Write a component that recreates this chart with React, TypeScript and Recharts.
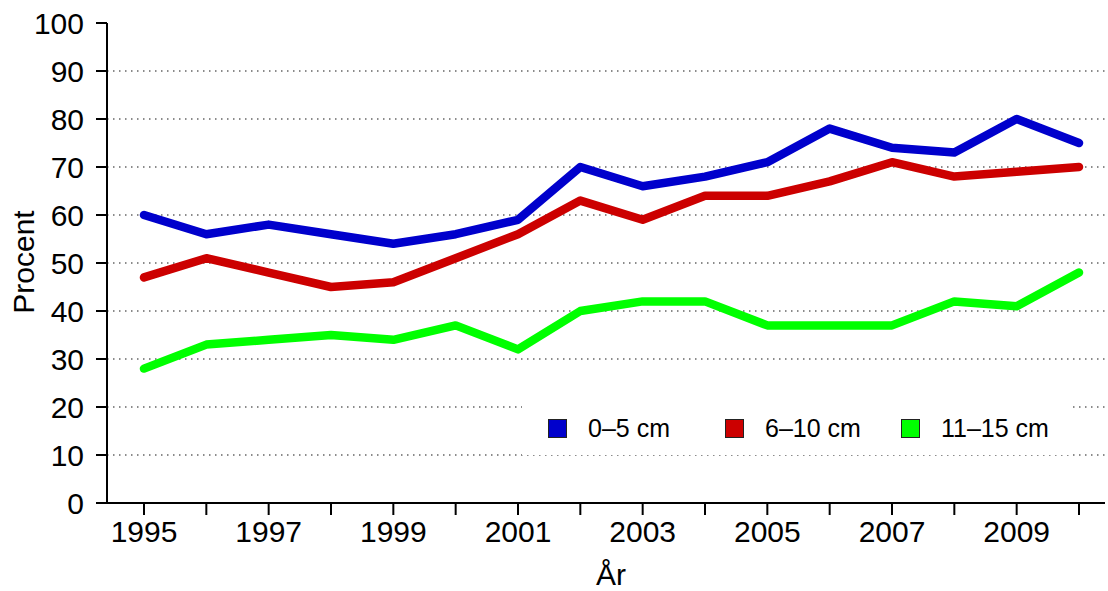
import React from 'react';
import { LineChart, Line, XAxis, YAxis, ReferenceLine } from 'recharts';

const years = [1995, 1996, 1997, 1998, 1999, 2000, 2001, 2002, 2003, 2004, 2005, 2006, 2007, 2008, 2009, 2010];
const shallow = [60, 56, 58, 56, 54, 56, 59, 70, 66, 68, 71, 78, 74, 73, 80, 75];
const middle = [47, 51, 48, 45, 46, 51, 56, 63, 59, 64, 64, 67, 71, 68, 69, 70];
const deep = [28, 33, 34, 35, 34, 37, 32, 40, 42, 42, 37, 37, 37, 42, 41, 48];
const yTicks = [0, 10, 20, 30, 40, 50, 60, 70, 80, 90, 100];
const gridValues = [10, 20, 30, 40, 50, 60, 70, 80, 90];

const series = [
  { key: 'shallow', name: '0–5 cm', color: '#0000cc', legendX: 26 },
  { key: 'middle', name: '6–10 cm', color: '#cc0000', legendX: 203 },
  { key: 'deep', name: '11–15 cm', color: '#00ff00', legendX: 379 },
];

const data = years.map((year, i) => ({
  year,
  shallow: shallow[i],
  middle: middle[i],
  deep: deep[i],
}));

const FONT = '"Liberation Sans", Arial, sans-serif';

// Legend as an overlay box (Recharts' own Legend would shrink the plot)
const ChartLegend = () => (
  <div
    style={{
      position: 'absolute',
      left: 522,
      top: 401,
      width: 548,
      height: 54,
      background: '#fff',
      fontFamily: FONT,
      fontSize: 25,
      color: '#000',
    }}
  >
    {series.map((s) => (
      <div
        key={s.key}
        style={{ position: 'absolute', left: s.legendX, top: 0, height: 54, display: 'flex', alignItems: 'center' }}
      >
        <span
          style={{
            display: 'inline-block',
            width: 17,
            height: 17,
            background: s.color,
            border: '1px solid #222',
            marginRight: 21,
          }}
        />
        <span style={{ whiteSpace: 'nowrap' }}>{s.name}</span>
      </div>
    ))}
  </div>
);

export default function App() {
  return (
    <div style={{ position: 'absolute', left: 0, top: 0, width: 1108, height: 591, background: '#fff' }}>
      <LineChart width={1108} height={591} data={data} margin={{ top: 23, right: 3, left: 0, bottom: 0 }}>
        <XAxis
          dataKey="year"
          type="number"
          domain={[1995, 2010]}
          ticks={years}
          interval={0}
          padding={{ left: 37, right: 26 }}
          height={88}
          tickSize={12}
          tickMargin={6}
          tickFormatter={(v: number) => (v % 2 === 1 ? String(v) : '')}
          axisLine={{ stroke: '#000', strokeWidth: 2 }}
          tickLine={{ stroke: '#000', strokeWidth: 2 }}
          tick={{ fill: '#000', fontSize: 30, fontFamily: FONT }}
          label={{
            content: () => (
              <text x={611} y={585} textAnchor="middle" fontSize={30} fontFamily={FONT} fill="#000">
                År
              </text>
            ),
          }}
        />
        <YAxis
          domain={[0, 100]}
          ticks={yTicks}
          interval={0}
          width={107}
          tickSize={11}
          tickMargin={12}
          axisLine={{ stroke: '#000', strokeWidth: 2 }}
          tickLine={{ stroke: '#000', strokeWidth: 2 }}
          tick={{ fill: '#000', fontSize: 30, fontFamily: FONT }}
          label={{
            content: () => (
              <text
                x={0}
                y={0}
                transform="translate(34, 262) rotate(-90)"
                textAnchor="middle"
                fontSize={30}
                fontFamily={FONT}
                fill="#000"
              >
                Procent
              </text>
            ),
          }}
        />
        {gridValues.map((v) => (
          <ReferenceLine key={v} y={v} stroke="#666" strokeWidth={1.3} strokeDasharray="1.5 4.5" />
        ))}
        {series.map((s) => (
          <Line
            key={s.key}
            type="linear"
            dataKey={s.key}
            name={s.name}
            stroke={s.color}
            strokeWidth={8.5}
            strokeLinecap="round"
            strokeLinejoin="round"
            dot={false}
            activeDot={false}
            isAnimationActive={false}
          />
        ))}
      </LineChart>
      <ChartLegend />
    </div>
  );
}
